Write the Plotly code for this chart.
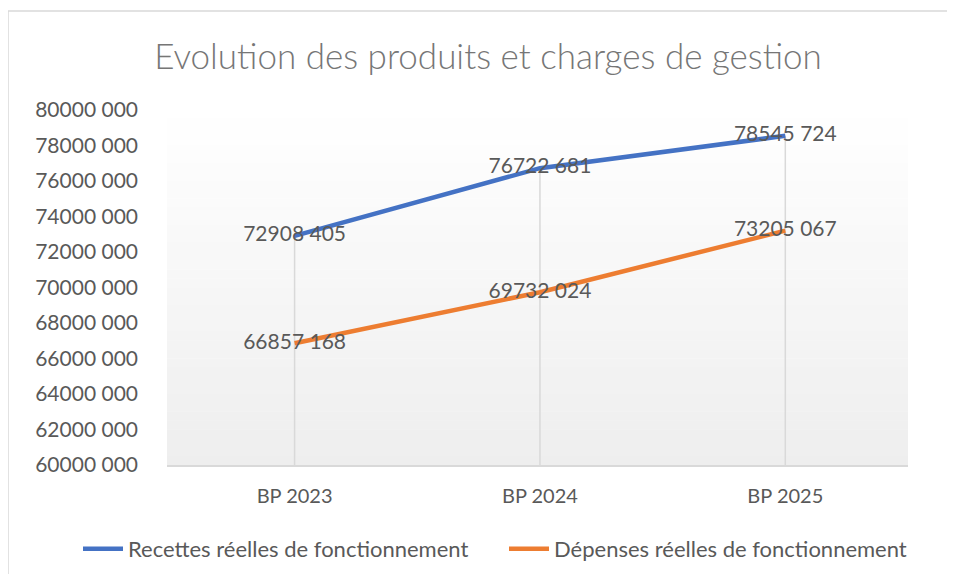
import plotly.graph_objects as go

categories = ["BP 2023", "BP 2024", "BP 2025"]
recettes = [72908405, 76722681, 78545724]
depenses = [66857168, 69732024, 73205067]
recettes_labels = ["72908 405", "76722 681", "78545 724"]
depenses_labels = ["66857 168", "69732 024", "73205 067"]
tick_vals = [60000000 + 2000000 * i for i in range(11)]
tick_text = ["60000 000", "62000 000", "64000 000", "66000 000", "68000 000", "70000 000",
             "72000 000", "74000 000", "76000 000", "78000 000", "80000 000"]
series_names = ["Recettes réelles de fonctionnement", "Dépenses réelles de fonctionnement"]

Y_MIN, Y_MAX = 60000000, 80000000
FONT = "Lato, 'Open Sans', sans-serif"
TXT = "#595959"
OFF = 8  # page body margin
W, H = 955 - 2 * OFF, 582 - 2 * OFF

fig = go.Figure()

# drop lines from highest point to axis
dx, dy = [], []
for c, a, b in zip(categories, recettes, depenses):
    dx += [c, c, None]
    dy += [Y_MIN, max(a, b), None]
fig.add_trace(go.Scatter(x=dx, y=dy, mode="lines", line=dict(color="#d9d9d9", width=1.5),
                         showlegend=False, hoverinfo="skip"))

fig.add_trace(go.Scatter(x=categories, y=recettes, name=series_names[0], mode="lines+text",
                         line=dict(color="#4472C4", width=4.5), text=recettes_labels,
                         textposition="middle center", legend="legend",
                         textfont=dict(family=FONT, size=21, color=TXT)))
fig.add_trace(go.Scatter(x=categories, y=depenses, name=series_names[1], mode="lines+text",
                         line=dict(color="#ED7D31", width=4.5), text=depenses_labels,
                         textposition="middle center", legend="legend2",
                         textfont=dict(family=FONT, size=21, color=TXT)))

# gradient background of plot area
shapes = []
n = 40
for i in range(n):
    t = (i + 0.5) / n  # 0 at top, 1 at bottom
    v = round(255 - (255 - 238) * t)
    shapes.append(dict(type="rect", xref="x domain", yref="y domain",
                       x0=0, x1=1, y0=1 - (i + 1) / n, y1=1 - i / n + 0.001,
                       fillcolor=f"rgb({v},{v},{v})", line=dict(width=0), layer="below"))
# chart border: only top and left edges are visible
bx0 = (0 - (167 - OFF)) / 741
by1 = ((465 - OFF) - (11 - OFF)) / 355
shapes.append(dict(type="line", xref="paper", yref="paper", x0=bx0, x1=1.2, y0=by1, y1=by1,
                   line=dict(color="#d9d9d9", width=1.5), layer="below"))
shapes.append(dict(type="line", xref="paper", yref="paper", x0=bx0, x1=bx0, y0=-0.4, y1=by1,
                   line=dict(color="#d9d9d9", width=1.5), layer="below"))

leg_common = dict(orientation="h", xref="container", yref="container",
                  xanchor="left", yanchor="middle", y=1 - (549 - OFF) / H,
                  font=dict(family=FONT, size=22, color=TXT), itemwidth=40,
                  bgcolor="rgba(0,0,0,0)")

fig.update_layout(
    width=W, height=H,
    margin=dict(l=167 - OFF, r=W - (908 - OFF), t=110 - OFF, b=H - (465 - OFF),
                autoexpand=False),
    paper_bgcolor="white", plot_bgcolor="white",
    shapes=shapes,
    title=dict(text="Evolution des produits et charges de gestion",
               x=(488 - OFF) / W, xref="container", xanchor="center",
               y=1 - (57 - OFF) / H, yref="container", yanchor="middle",
               font=dict(family=FONT, size=35, color="#767676", weight=300)),
    legend=dict(leg_common, x=(78 - OFF) / W),
    legend2=dict(leg_common, x=(504 - OFF) / W),
    showlegend=True,
)
fig.update_xaxes(type="category", range=[-0.52, 2.5], showgrid=False, showline=True,
                 linecolor="#d9d9d9", linewidth=1.5, ticks="", ticklabelstandoff=12,
                 tickfont=dict(family=FONT, size=20, color=TXT), zeroline=False)
fig.update_yaxes(range=[Y_MIN, Y_MAX], tickvals=tick_vals, ticktext=tick_text,
                 showgrid=False, showline=False, zeroline=False, ticks="",
                 ticklabelstandoff=28,
                 tickfont=dict(family=FONT, size=21, color=TXT))

fig.write_html("out.html")
